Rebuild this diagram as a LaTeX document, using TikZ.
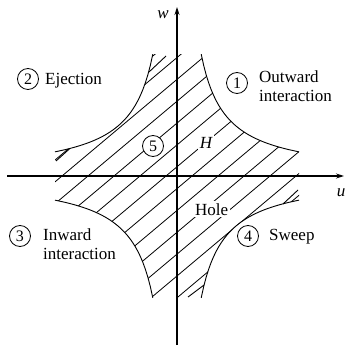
\documentclass[tikz,border=0pt]{standalone}
\usepackage{fontspec}
\setmainfont{Liberation Serif}
\usetikzlibrary{arrows.meta}
\begin{document}
\begin{tikzpicture}[x=1pt,y=-1pt,
  lbl/.style={font=\fontsize{17}{20}\selectfont, inner sep=0pt},
  num/.style={circle, draw, line width=0.8pt, minimum size=21pt, inner sep=0pt, fill=white, font=\fontsize{16}{16}\selectfont},
  bnd/.style={line width=0.9pt},
  hatchline/.style={line width=0.8pt},
  axisline/.style={line width=1.1pt, -{Stealth[length=8pt,width=5pt]}}]
\useasboundingbox (0,0) rectangle (347,347);
% hatched hole region
\begin{scope}
\clip plot[domain=122:24.2,samples=40] ({177+\x},{176-2950/\x})
  -- plot[domain=-24.2:-122,samples=40] ({177+\x},{176+2950/\x})
  -- plot[domain=-122:-24.2,samples=40] ({177+\x},{176-2950/\x})
  -- plot[domain=24.2:122,samples=40] ({177+\x},{176+2950/\x}) -- cycle;
\foreach \c in {-7,...,15}
  \draw[hatchline] ({62+26*\c-170},{176+170*0.84}) -- ({62+26*\c+170},{176-170*0.84});
\end{scope}
% boundary curves
\draw[bnd] plot[domain=122:24.2,samples=40] ({177+\x},{176-2950/\x});
\draw[bnd] plot[domain=-24.2:-122,samples=40] ({177+\x},{176+2950/\x});
\draw[bnd] plot[domain=-122:-24.2,samples=40] ({177+\x},{176-2950/\x});
\draw[bnd] plot[domain=24.2:122,samples=40] ({177+\x},{176+2950/\x});
% harpoon barbs on ejection and sweep curves
\draw[bnd] (149,72) -- (166,56);
\draw[bnd] (70,148.4) -- (56,161);
\draw[bnd] (204,285) -- (188,297);
\draw[bnd] (283,204) -- (298,190);
% axes
\coordinate (uS) at (7,176);
\coordinate (uE) at (344,176);
\coordinate (wS) at (177,345);
\coordinate (wE) at (177,7);
\draw[axisline] (uS) -- (uE);
\draw[axisline] (wS) -- (wE);
\node[lbl] (wl) at (163,15) {\itshape w};
\node[lbl] (ul) at (341,193) {\itshape u};
% labels
\node[num] (n1) at (237,83) {1};
\node[lbl, anchor=base west] (t1a) at (259,83) {Outward};
\node[lbl, anchor=base west] (t1b) at (259,102) {interaction};
\node[num] (n2) at (28,79) {2};
\node[lbl, anchor=base west] (t2) at (45,85) {Ejection};
\node[num] (n3) at (20,236) {3};
\node[lbl, anchor=base west] (t3a) at (43,240) {Inward};
\node[lbl, anchor=base west] (t3b) at (43,259) {interaction};
\node[num] (n4) at (248,236) {4};
\node[lbl, anchor=base west] (t4) at (269,240) {Sweep};
\node[num] (n5) at (153,146) {5};
\node[lbl, fill=white, inner sep=2pt] (H) at (206,143) {\itshape H};
\node[lbl, fill=white, inner sep=2pt, anchor=base west] (hole) at (193,215) {Hole};
\end{tikzpicture}
\end{document}
